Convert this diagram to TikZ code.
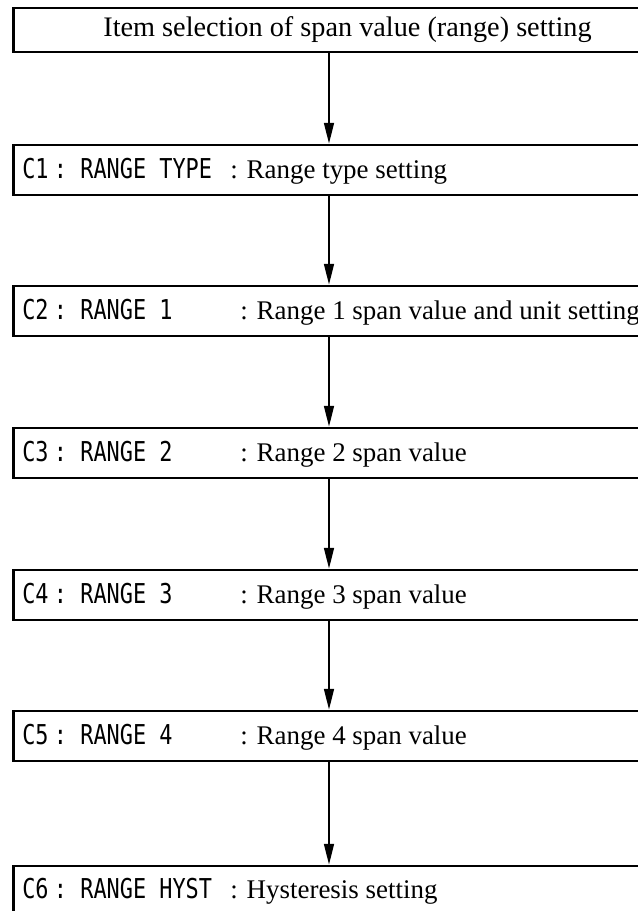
\documentclass[tikz,border=0pt]{standalone}
\usepackage{fontspec}
\setmainfont{Liberation Serif}
\newfontfamily\codefont[FakeStretch=0.8]{DejaVu Sans Mono}
\usetikzlibrary{arrows.meta, positioning}

\newcommand{\itemcode}[2]{#1\hspace{4pt}:\hspace{10pt}#2}

\begin{document}
\begin{tikzpicture}[x=0.75pt, y=-0.75pt,
  stepbox/.style={draw, line width=2.2pt, anchor=west, minimum width=501pt,
                  minimum height=37.5pt, inner sep=0pt},
  code/.style={anchor=base west, inner sep=0pt, font=\fontsize{20.5}{24}\codefont},
  desc/.style={anchor=base west, inner sep=0pt, font=\fontsize{20.2}{24}\selectfont},
  arr/.style={-{Triangle[length=15.5pt, width=7.5pt]}, line width=1pt}
]
\useasboundingbox (0,0) rectangle (638,911);

%% -- boxes (open to the right, cut by the page edge)
\node[stepbox, minimum height=33pt, font=\fontsize{21.2}{25}\selectfont]
  (top) at (12,30) {Item selection of span value (range) setting};
\foreach \i/\y in {1/170, 2/311, 3/453, 4/595, 5/736, 6/891}{
  \node[stepbox] (c\i) at (12,\y) {};
}

%% -- item codes and their meaning
\node[code] (k1) at (22,178) {\itemcode{C1}{RANGE TYPE}};
\node[desc] (d1) at (230,178) {: Range type setting};
\node[code] (k2) at (22,319) {\itemcode{C2}{RANGE 1}};
\node[desc] (d2) at (240,319) {: Range 1 span value and unit setting};
\node[code] (k3) at (22,461) {\itemcode{C3}{RANGE 2}};
\node[desc] (d3) at (240,461) {: Range 2 span value};
\node[code] (k4) at (22,603) {\itemcode{C4}{RANGE 3}};
\node[desc] (d4) at (240,603) {: Range 3 span value};
\node[code] (k5) at (22,744) {\itemcode{C5}{RANGE 4}};
\node[desc] (d5) at (240,744) {: Range 4 span value};
\node[code] (k6) at (22,898) {\itemcode{C6}{RANGE HYST}};
\node[desc] (d6) at (230,898) {: Hysteresis setting};

%% -- flow arrows
\coordinate (ax) at (329,0);
\foreach \a/\b in {top/c1, c1/c2, c2/c3, c3/c4, c4/c5, c5/c6}{
  \draw[arr] (\a.south -| ax) -- (\b.north -| ax);
}

\end{tikzpicture}
\end{document}
